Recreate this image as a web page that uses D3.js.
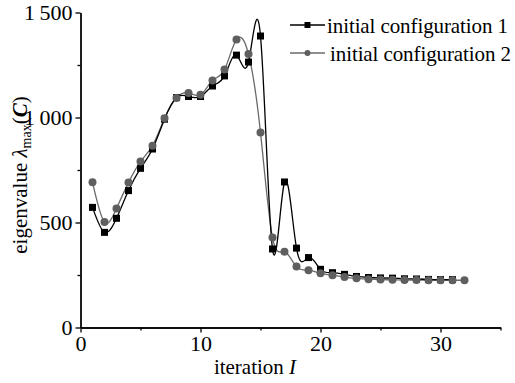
<!DOCTYPE html>
<html>
<head>
<meta charset="utf-8">
<script src="https://cdn.jsdelivr.net/npm/d3@7"></script>
<style>
  body { margin: 0; background: #fff; }
</style>
</head>
<body>
<div id="chart"></div>
<script>
// iteration numbers
const iter1 = d3.range(1, 32)
const iter2 = d3.range(1, 33)
// lambda_max(C) for initial configuration 1 (squares)
const config1 = [572, 453, 520, 652, 758, 850, 992, 1095, 1100, 1100, 1150, 1198, 1297, 1264, 1388,
  374, 693, 378, 333, 277, 261, 253, 243, 238, 236, 235, 232, 231, 229, 228, 228]
// lambda_max(C) for initial configuration 2 (circles)
const config2 = [692, 502, 567, 690, 790, 866, 996, 1093, 1117, 1108, 1176, 1228, 1372, 1302, 928,
  428, 361, 290, 273, 258, 249, 240, 234, 230, 228, 227, 226, 226, 225, 225, 225, 225]
const xTicks = [0, 10, 20, 30]
const xMinor = [5, 15, 25, 35]
const yTicks = [0, 500, 1000, 1500]
const yMinor = [250, 750, 1250]
const legendLabels = ['initial configuration 1', 'initial configuration 2']

const width = 515, height = 383
const margin = { top: 12.5, right: 14.5, bottom: 55.5, left: 80.5 }
const serif = '"Liberation Serif", "Times New Roman", serif'

const svg = d3.select('#chart').append('svg')
  .attr('width', width)
  .attr('height', height)
  .attr('font-family', serif)

const x = d3.scaleLinear().domain([0, 35]).range([margin.left, width - margin.right])
const y = d3.scaleLinear().domain([0, 1500]).range([height - margin.bottom, margin.top])

const fmt = d => d >= 1000 ? d3.format('d')(d).replace(/(\d)(\d{3})$/, '$1\u2009$2') : d3.format('d')(d)

// axes
const xAxis = d3.axisBottom(x).tickValues(xTicks).tickSizeInner(5).tickSizeOuter(0).tickPadding(3)
const xAxisMinor = d3.axisBottom(x).tickValues(xMinor).tickSizeInner(3).tickSizeOuter(0).tickFormat('')
const yAxis = d3.axisLeft(y).tickValues(yTicks).tickSizeInner(5).tickSizeOuter(0).tickPadding(3).tickFormat(fmt)
const yAxisMinor = d3.axisLeft(y).tickValues(yMinor).tickSizeInner(3).tickSizeOuter(0).tickFormat('')

svg.append('g').attr('transform', `translate(0, ${y(0)})`).call(xAxisMinor)
const gx = svg.append('g').attr('transform', `translate(0, ${y(0)})`).call(xAxis)
svg.append('g').attr('transform', `translate(${x(0)}, 0)`).call(yAxisMinor)
const gy = svg.append('g').attr('transform', `translate(${x(0)}, 0)`).call(yAxis)

svg.selectAll('g').attr('font-family', serif)
svg.selectAll('.domain, .tick line').attr('stroke', '#000').attr('stroke-width', 1.3)
gx.selectAll('text').attr('font-size', '22px').attr('fill', '#000')
gy.selectAll('text').attr('font-size', '22px').attr('fill', '#000').attr('dy', '0.34em')

// axis titles
svg.append('text')
  .attr('x', 255).attr('y', 374)
  .attr('text-anchor', 'middle')
  .attr('font-size', '21px')
  .call(t => {
    t.append('tspan').text('iteration ')
    t.append('tspan').attr('font-style', 'italic').text('I')
  })

svg.append('text')
  .attr('transform', 'translate(27, 175) rotate(-90)')
  .attr('text-anchor', 'middle')
  .attr('font-size', '21px')
  .call(t => {
    t.append('tspan').text('eigenvalue ')
    t.append('tspan').attr('font-style', 'italic').text('λ')
    t.append('tspan').attr('font-size', '14px').attr('dy', 4).text('max')
    t.append('tspan').attr('dy', -4).text('(')
    t.append('tspan').attr('font-style', 'italic').attr('font-weight', 'bold').text('C')
    t.append('tspan').text(')')
  })

// lines
const line = d3.line().curve(d3.curveNatural).x(d => x(d[0])).y(d => y(d[1]))
const pts1 = iter1.map((d, i) => [d, config1[i]])
const pts2 = iter2.map((d, i) => [d, config2[i]])

svg.append('path')
  .attr('d', line(pts2))
  .attr('fill', 'none')
  .attr('stroke', '#6a6a6a')
  .attr('stroke-width', 1.3)

svg.append('path')
  .attr('d', line(pts1))
  .attr('fill', 'none')
  .attr('stroke', '#000')
  .attr('stroke-width', 1.3)

// markers
svg.selectAll('.sq')
  .data(pts1)
  .enter()
  .append('rect')
  .attr('x', d => x(d[0]) - 3.5)
  .attr('y', d => y(d[1]) - 3.5)
  .attr('width', 7)
  .attr('height', 7)
  .attr('fill', '#000')

svg.selectAll('.dot')
  .data(pts2)
  .enter()
  .append('circle')
  .attr('cx', d => x(d[0]))
  .attr('cy', d => y(d[1]))
  .attr('r', 4)
  .attr('fill', '#5f5f5f')

// legend
const leg = svg.append('g')
const legY = [25, 53]
leg.selectAll('line')
  .data(legendLabels)
  .enter()
  .append('line')
  .attr('x1', 290).attr('x2', 325)
  .attr('y1', (d, i) => legY[i]).attr('y2', (d, i) => legY[i])
  .attr('stroke', (d, i) => i === 0 ? '#000' : '#6a6a6a')
  .attr('stroke-width', 1.3)
leg.append('rect').attr('x', 304.5).attr('y', legY[0] - 3).attr('width', 6).attr('height', 6).attr('fill', '#000')
leg.append('circle').attr('cx', 307.5).attr('cy', legY[1]).attr('r', 3).attr('fill', '#5f5f5f')
leg.selectAll('text')
  .data(legendLabels)
  .enter()
  .append('text')
  .attr('x', (d, i) => i === 0 ? 327 : 330)
  .attr('y', (d, i) => legY[i] + 7.5)
  .attr('font-size', '21px')
  .attr('textLength', 181)
  .attr('lengthAdjust', 'spacing')
  .text(d => d)
</script>
</body>
</html>
